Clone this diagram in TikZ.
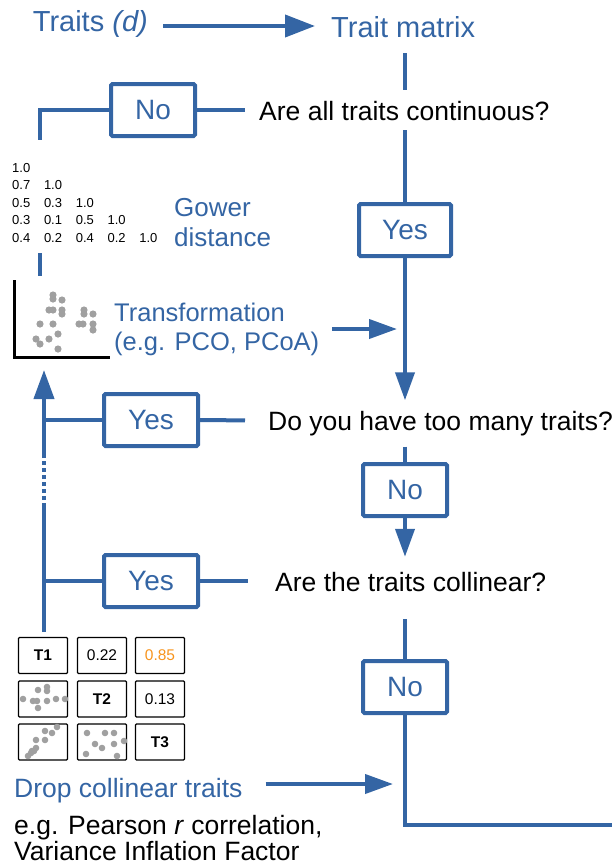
\documentclass[tikz,border=0pt]{standalone}
\usepackage{fontspec}
\setmainfont{Liberation Sans}
\usetikzlibrary{arrows.meta,positioning}
\definecolor{Blue}{HTML}{3465A4}
\definecolor{Orange}{HTML}{F7941D}
\definecolor{Dot}{HTML}{A0A0A0}
\newcommand{\fsz}[2]{\fontsize{#1}{#2}\selectfont}

\begin{document}
\begin{tikzpicture}[x=1pt,y=-1pt,
  line/.style={Blue,line width=4pt},
  arr/.style={Blue,line width=4pt,-{Triangle[length=28pt,width=19pt]}},
  box/.style={draw=Blue,line width=4pt,rounded corners=1.5pt,text=Blue,minimum width=84pt,minimum height=52pt,inner sep=0pt,font=\fsz{28}{30}},
  quest/.style={font=\fsz{26.5}{30},inner xsep=14pt,inner ysep=10pt,text height=20pt,text depth=0pt},
  lbl/.style={text=Blue,inner sep=0pt},
  cell/.style={draw,line width=1.3pt,rounded corners=1pt,minimum width=49pt,minimum height=36pt,inner sep=0pt,font=\fsz{15.5}{18}},
  dot/.style={fill=Dot}]
  \useasboundingbox (0,0) rectangle (612,868);

  % top row
  \node[lbl,font=\fsz{29}{32},inner xsep=15pt,text height=10pt,text depth=0pt,anchor=base east] (trd) at (163,31) {Traits \textit{(d)}};
  \node[lbl,font=\fsz{29}{32},inner xsep=16pt,anchor=base west] (tm) at (315,37) {Trait matrix};
  \draw[Blue,line width=4pt,-{Triangle[length=30pt,width=22pt]}] (trd.east) -- (trd.east -| tm.west);

  % questions and answers
  \node[quest,anchor=base west] (q1) at (245,120) {Are all traits continuous?};
  \node[quest,anchor=base west] (q2) at (254,430.5) {Do you have too many traits?};
  \node[quest,anchor=base west] (q3) at (261,591) {Are the traits collinear?};
  \node[box] (no1) at (153,110) {No};
  \node[box,minimum width=92pt] (yes1) at (405,230) {Yes};
  \node[box,minimum width=94pt] (yes2) at (151,420) {Yes};
  \node[box] (no2) at (405,490) {No};
  \node[box,minimum width=94pt] (yes3) at (151,581) {Yes};
  \node[box] (no3) at (405,687) {No};

  % main line
  \draw[line,shorten <=16pt] (yes1 |- tm.south) -- (yes1 |- q1.north);
  \draw[line] (yes1 |- q1.south) -- (yes1.north);
  \draw[arr] (yes1.south) -- (yes1 |- q2.north);
  \draw[line,shorten <=6pt] (no2 |- q2.south) -- (no2.north);
  \draw[arr,shorten >=4pt] (no2.south) -- (no2 |- q3.north);
  \draw[line,shorten <=18pt] (no3 |- q3.south) -- (no3.north);
  \coordinate (endc) at (612,825);
  \draw[line] (no3.south) |- (endc);

  % left branch: not continuous
  \coordinate (gtop) at (40,140);
  \draw[line] (no1.east) -- (q1.west);
  \draw[line] (no1.west) -| (gtop);
  \foreach \vals [count=\r] in {{1.0},{0.7,1.0},{0.5,0.3,1.0},{0.3,0.1,0.5,1.0},{0.4,0.2,0.4,0.2,1.0}}{
    \foreach \v [count=\c] in \vals
      \node[anchor=west,inner sep=0pt,font=\fsz{13}{14}] (g\r\c) at ({12+31.8*(\c-1)},{168+17.5*(\r-1)}) {\v};
  }
  \node[lbl,anchor=west,align=left,font=\fsz{26}{30}] (gow) at (174,223) {Gower\\distance};
  \coordinate (s1) at (40,253);
  \coordinate (s2) at (40,276);
  \draw[line] (s1) -- (s2);

  % ordination plot
  \draw[line width=3pt] (14,280) |- (110,357);
  \foreach \p in {(53,295),(53,299),(62,300),(49,310),(53,310),(62,310),(62,314),(84,310),(84,314),(93,314),
                  (40,324),(53,324),(79,324),(83,324),(93,324),(93,330),(36,339),(40,344),(49,339),(58,334),(58,349)}
    \fill[dot] \p circle (3.6);
  \node[lbl,anchor=west,align=left,inner xsep=13pt,font=\fsz{25.5}{29}] (trans) at (101,329) {Transformation\\(e.g. PCO, PCoA)};
  \draw[arr,shorten >=8pt] (trans.east) -- (trans.east -| yes1);

  % left branch: too many / collinear
  \coordinate (upbot) at (44,632);
  \coordinate (dlo) at (44,507);
  \coordinate (dhi) at (44,457);
  \coordinate (uptip) at (44,370);
  \draw[line] (upbot) -- (dlo);
  \draw[line,dash pattern=on 4pt off 3pt] (dlo) -- (dhi);
  \draw[Blue,line width=4pt,-{Triangle[length=29pt,width=20pt]}] (dhi) -- (uptip);
  \draw[line] (yes2.west) -- (yes2.west -| upbot);
  \draw[line,shorten >=9pt] (yes2.east) -- (q2.west);
  \draw[line] (yes3.west) -- (yes3.west -| upbot);
  \draw[line,shorten >=13pt] (yes3.east) -- (q3.west);

  % correlation grid
  \node[cell] (c11) at (43,655.5) {\textbf{T1}};
  \node[cell] (c12) at (102,655.5) {0.22};
  \node[cell,text=Orange] (c13) at (160,655.5) {0.85};
  \node[cell] (c21) at (43,699) {};
  \node[cell] (c22) at (102,699) {\textbf{T2}};
  \node[cell] (c23) at (160,699) {0.13};
  \node[cell] (c31) at (43,742) {};
  \node[cell] (c32) at (102,742) {};
  \node[cell] (c33) at (160,742) {\textbf{T3}};
  \foreach \p in {(23,699),(38,690),(47,687),(47,691),(33,701),(37,701),(38,708),(47,701),(56,699),(65,699),
                  (28,756),(32,751),(34,751),(36,748),(36,740),(45,740),(45,731),(52,733),(57,727),(31,753),
                  (87,733),(95,744),(102,748),(105,733),(114,733),(114,744),(124,741),(86,754),(117,756)}
    \fill[dot] \p circle (3.3);

  % bottom
  \node[lbl,anchor=base west,font=\fsz{26.5}{30},text height=26pt,text depth=0pt] (drop) at (14,797) {Drop collinear traits};
  \draw[arr,shorten <=23pt,shorten >=12pt] (drop.east) -- (drop.east -| no3);
  \node[anchor=west,align=left,inner sep=0pt,font=\fsz{26.5}{26}] (eg) at (14,838) {e.g. Pearson \textit{r} correlation,\\Variance Inflation Factor};
\end{tikzpicture}
\end{document}
